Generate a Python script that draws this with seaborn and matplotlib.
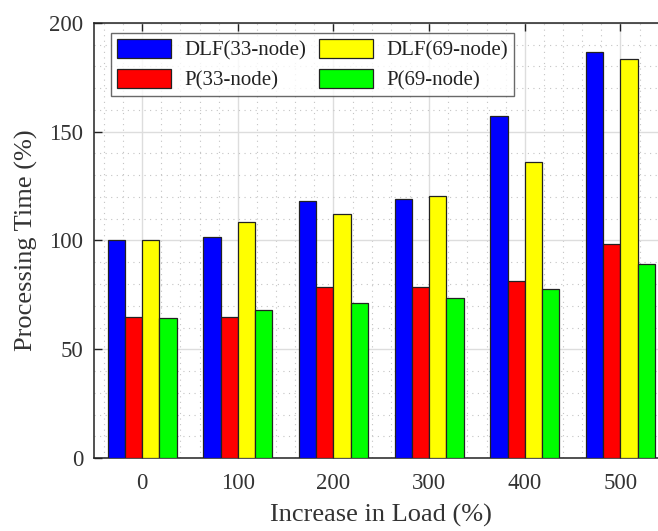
import matplotlib
matplotlib.use("Agg")
import matplotlib.pyplot as plt
import seaborn as sns
import pandas as pd
from matplotlib.ticker import MultipleLocator
from matplotlib.patches import Patch

loads = ["0", "100", "200", "300", "400", "500"]
series = ["DLF(33-node)", "P(33-node)", "DLF(69-node)", "P(69-node)"]
dlf33 = [100, 101.6, 118.3, 119.0, 157.3, 186.8]
p33 = [64.9, 65.0, 78.6, 78.7, 81.5, 98.4]
dlf69 = [100, 108.5, 112.2, 120.5, 136.2, 183.5]
p69 = [64.4, 68.0, 71.3, 73.5, 77.8, 89.2]
colors = ["#0000ff", "#ff0000", "#ffff00", "#00ff00"]

rows = []
for name, vals in zip(series, [dlf33, p33, dlf69, p69]):
    for l, v in zip(loads, vals):
        rows.append({"load": l, "series": name, "value": v})
df = pd.DataFrame(rows)

sns.set_theme(style="white")
plt.rcParams["font.family"] = ["Liberation Serif", "DejaVu Serif"]

fig = plt.figure(figsize=(6.58, 5.31), dpi=100)
ax_w = 574
ax_h = 435
ax = fig.add_axes([94.3 / 658, 73 / 531, ax_w / 658, ax_h / 531])

sns.barplot(data=df, x="load", y="value", hue="series", hue_order=series,
            order=loads, palette=colors, width=0.72, edgecolor="#222222",
            linewidth=0.9, saturation=1, ax=ax, legend=False, zorder=3)

ax.set_xlim(-0.5, 5.5)
ax.set_ylim(0, 200)
ax.yaxis.set_major_locator(MultipleLocator(50))
ax.yaxis.set_minor_locator(MultipleLocator(10))
ax.xaxis.set_minor_locator(MultipleLocator(0.2))
ax.grid(which="major", color="#dddddd", linewidth=1.0, linestyle="-", zorder=0)
ax.grid(which="minor", color="#c4c4c4", linewidth=0.8, linestyle=(0, (1, 4)), zorder=0)
ax.set_axisbelow(True)

ax.tick_params(which="major", direction="in", length=6, width=1.0, color="#222222",
               labelsize=16.5, labelcolor="#333333", top=True, left=True, bottom=True)
ax.tick_params(axis="x", pad=11)
ax.tick_params(axis="y", pad=8)
ax.tick_params(which="minor", length=0)
for s in ["left", "bottom", "top", "right"]:
    ax.spines[s].set_color("#222222")
    ax.spines[s].set_linewidth(1.1)

ax.set_xlabel("Increase in Load (%)", fontsize=19, color="#333333", labelpad=7)
ax.set_ylabel("Processing Time (%)", fontsize=19, color="#333333", labelpad=8)

handles = [Patch(facecolor=c, edgecolor="#222222", linewidth=0.9) for c in colors]
leg = ax.legend(handles, series, loc="upper left", ncol=2, fontsize=15,
                frameon=True, fancybox=False, edgecolor="#444444",
                handlelength=2.6, handleheight=1.05, columnspacing=0.63,
                handletextpad=0.63, borderpad=0.28, labelspacing=0.38,
                borderaxespad=0,
                bbox_to_anchor=((111 - 94.3) / ax_w, 1 - (33 - 23) / ax_h))
leg.get_frame().set_linewidth(1.0)
for t in leg.get_texts():
    t.set_color("#222222")

fig.savefig("out.png", dpi=100)
